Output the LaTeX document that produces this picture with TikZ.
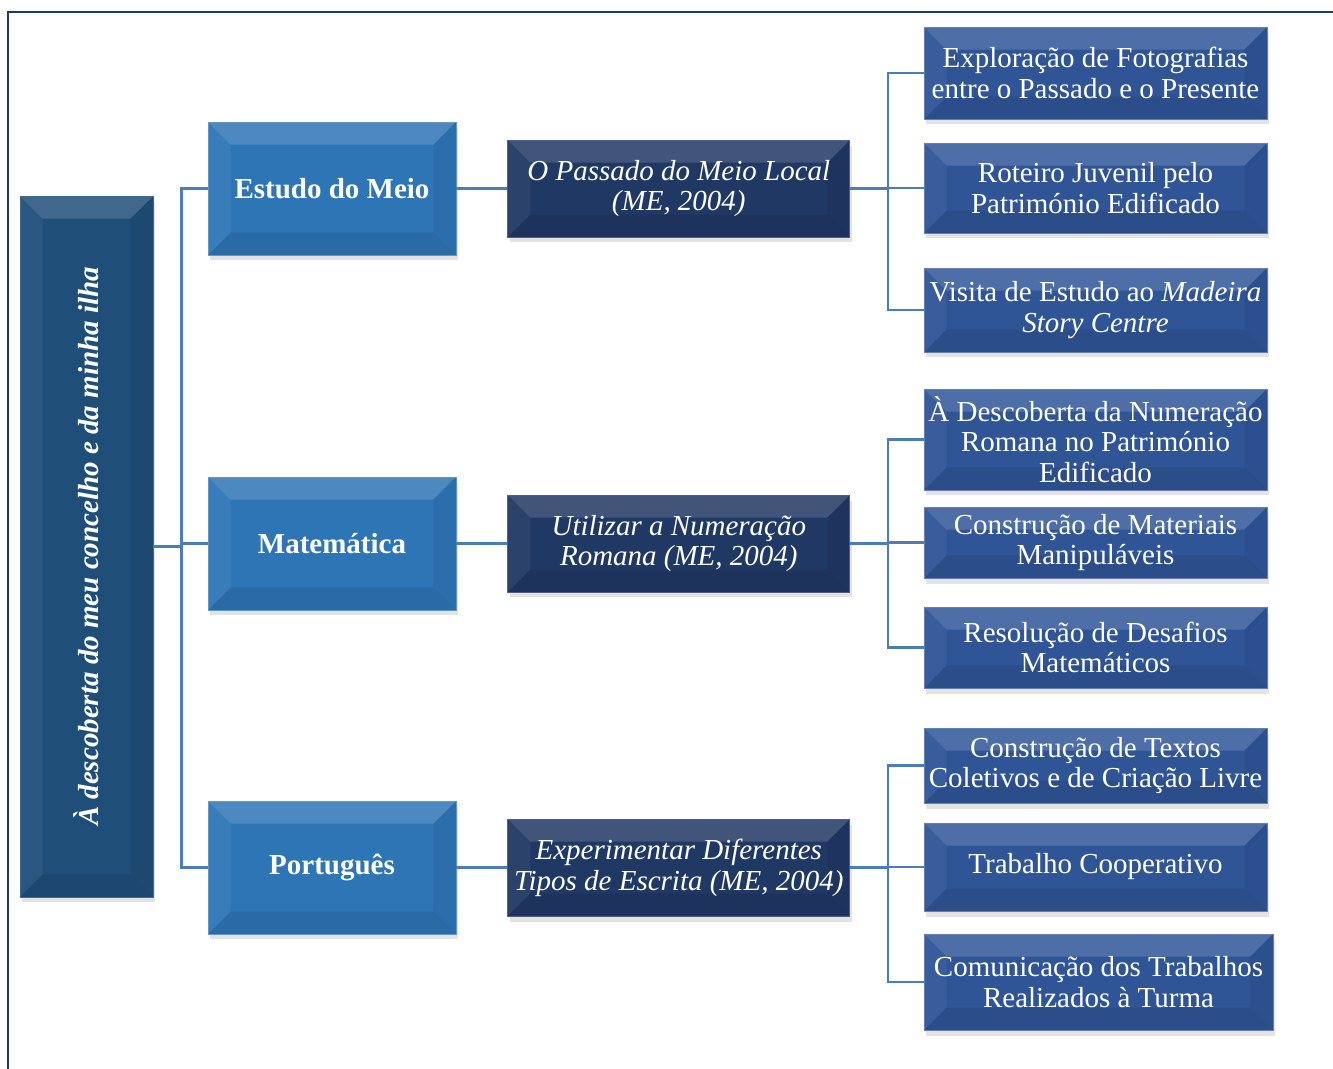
\documentclass[tikz,border=0pt]{standalone}
\usepackage{fontspec}
\setmainfont{Liberation Serif}
\usepackage{graphicx}
\usetikzlibrary{positioning,shadows}
\definecolor{dmframe}{RGB}{31,56,100}
\definecolor{dmroot}{RGB}{31,78,121}
\definecolor{dmtheme}{RGB}{46,117,182}
\definecolor{dmsub}{RGB}{32,56,100}
\definecolor{dmact}{RGB}{47,85,151}
\definecolor{dmline}{RGB}{74,126,187}
\tikzset{
  dmbox/.style={
    line width=0.5pt, align=center, text=white, inner sep=2pt,
    font=\fontsize{16.5}{17.5}\selectfont,
    drop shadow={shadow xshift=0.4mm, shadow yshift=-1.1mm, opacity=0.22},
    path picture={
      \fill[white, opacity=0.15] (path picture bounding box.north west)
        -- (path picture bounding box.north east)
        -- ([shift={(-0.45cm,-0.45cm)}]path picture bounding box.north east)
        -- ([shift={(0.45cm,-0.45cm)}]path picture bounding box.north west) -- cycle;
      \fill[white, opacity=0.05] (path picture bounding box.north west)
        -- ([shift={(0.45cm,-0.45cm)}]path picture bounding box.north west)
        -- ([shift={(0.45cm,0.45cm)}]path picture bounding box.south west)
        -- (path picture bounding box.south west) -- cycle;
      \fill[black, opacity=0.06] (path picture bounding box.north east)
        -- ([shift={(-0.45cm,-0.45cm)}]path picture bounding box.north east)
        -- ([shift={(-0.45cm,0.45cm)}]path picture bounding box.south east)
        -- (path picture bounding box.south east) -- cycle;
      \fill[black, opacity=0.08] (path picture bounding box.south west)
        -- ([shift={(0.45cm,0.45cm)}]path picture bounding box.south west)
        -- ([shift={(-0.45cm,0.45cm)}]path picture bounding box.south east)
        -- (path picture bounding box.south east) -- cycle;
    }
  },
  rootbox/.style={dmbox, fill=dmroot, draw=dmroot!85!white,
    font=\fontsize{16.5}{19}\selectfont\bfseries\itshape,
    minimum width=2.66cm, minimum height=14.02cm},
  theme/.style={dmbox, fill=dmtheme, draw=dmtheme!75!white,
    font=\fontsize{16.5}{19}\selectfont\bfseries,
    minimum width=4.96cm, minimum height=2.66cm},
  sub/.style={dmbox, fill=dmsub, draw=dmsub!80!white,
    font=\fontsize{16.5}{17.5}\selectfont\itshape,
    minimum width=6.84cm, minimum height=1.94cm},
  act/.style={dmbox, fill=dmact, draw=dmact!75!white, minimum width=6.86cm},
  conn/.style={draw=dmline, line width=1.4pt},
  rim/.style={draw=dmframe, line width=1.2pt}
}
\begin{document}
\begin{tikzpicture}[x=0.02cm, y=-0.02cm, node distance=1.02cm]
  \useasboundingbox (0,0) rectangle (1333,1069);
  \draw[rim] (8,1069) -- (8,12) -- (1333,12);

  % root and themes
  \node[rootbox] (root) at (86.5,546.5)
    {\rotatebox{90}{À descoberta do meu concelho e da minha ilha}};
  \node[theme] (em) at (332,188.5) {Estudo do Meio};
  \node[theme] (mat) at (332,543.5) {Matemática};
  \node[theme] (por) at (332,867.5) {Português};

  \node[sub, right=of em] (pml) {O Passado do Meio Local\\(ME, 2004)};
  \node[sub, right=of mat] (unr) {Utilizar a Numeração\\Romana (ME, 2004)};
  \node[sub, right=of por] (ede) {Experimentar Diferentes\\Tipos de Escrita (ME, 2004)};

  % activities
  \node[act, minimum height=1.84cm] (a1) at (1095.5,73)
    {Exploração de Fotografias\\entre o Passado e o Presente};
  \node[act, minimum height=1.80cm] (a2) at (1095.5,188)
    {Roteiro Juvenil pelo\\Património Edificado};
  \node[act, minimum height=1.68cm] (a3) at (1095.5,310)
    {Visita de Estudo ao \textit{Madeira}\\\textit{Story Centre}};
  \node[act, minimum height=2.02cm] (b1) at (1095.5,439.5)
    {À Descoberta da Numeração\\Romana no Património\\Edificado};
  \node[act, minimum height=1.42cm] (b2) at (1095.5,542.5)
    {Construção de Materiais\\Manipuláveis};
  \node[act, minimum height=1.62cm] (b3) at (1095.5,647.5)
    {Resolução de Desafios\\Matemáticos};
  \node[act, minimum height=1.50cm] (c1) at (1095.5,765.5)
    {Construção de Textos\\Coletivos e de Criação Livre};
  \node[act, minimum height=1.76cm] (c2) at (1095.5,867)
    {Trabalho Cooperativo};
  \node[act, minimum width=6.98cm, minimum height=1.92cm] (c3) at (1098.5,982)
    {Comunicação dos Trabalhos\\Realizados à Turma};

  % connectors
  \coordinate (jr) at ([xshift=0.56cm]root.east);
  \draw[conn] (root.east) -- (jr);
  \foreach \q in {em,mat,por} \draw[conn] (jr) |- (\q.west);
  \foreach \p/\q in {em/pml,mat/unr,por/ede} \draw[conn] (\p) -- (\q);
  \coordinate (ja) at ([xshift=0.76cm]pml.east);
  \coordinate (jb) at ([xshift=0.76cm]unr.east);
  \coordinate (jc) at ([xshift=0.76cm]ede.east);
  \draw[conn] (pml.east) -- (ja);
  \draw[conn] (unr.east) -- (jb);
  \draw[conn] (ede.east) -- (jc);
  \foreach \q in {a1,a2,a3} \draw[conn] (ja) |- (\q.west);
  \foreach \q in {b1,b2,b3} \draw[conn] (jb) |- (\q.west);
  \foreach \q in {c1,c2,c3} \draw[conn] (jc) |- (\q.west);
\end{tikzpicture}
\end{document}
